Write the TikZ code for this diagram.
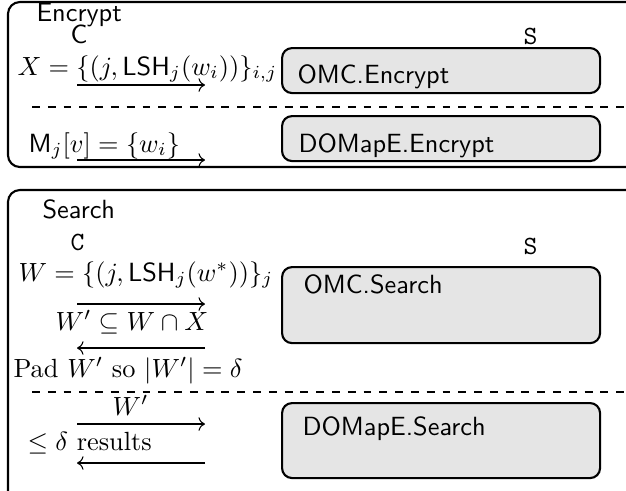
\documentclass[tikz,border=0pt]{standalone}
\usepackage{amsmath,amssymb}
\usetikzlibrary{arrows.meta}

\begin{document}
\begin{tikzpicture}
        [
        x=0.38pt, y=-0.38pt,
        every node/.style={inner sep=0pt, anchor=base west},
        frame/.style={draw, line width=0.8pt, rounded corners=4.5pt},
        alg/.style={draw, line width=0.8pt, fill=gray!20, rounded corners=3.8pt,
                    anchor=north west, minimum width=120.84pt},
        msg/.style={->, line width=0.4pt},
        sep/.style={dashed, line width=0.4pt},
        >=To
        ]
        \useasboundingbox (0,0) rectangle (626,490);
        \clip (0,0) rectangle (626,490);

        % Encrypt phase
        \draw[frame] (8,2) rectangle (660,167);
        \node (encL) at (36,21) {\sffamily Encrypt};
        \node (encC) at (70,43) {\sffamily C};
        \node (encS) at (523,44) {\texttt{S}};
        \node[alg, minimum height=17.1pt] (omcE) at (281,47) {};
        \node (omcEt) at (297,83) {\sffamily OMC.Encrypt};
        \node (encX) at (17,75) {$X = \{(j,\mathsf{LSH}_j(w_i))\}_{i,j}$};
        \coordinate (m1a) at (77,85);
        \coordinate (m1b) at (205,85);
        \coordinate (d1a) at (32,107);
        \coordinate (d1b) at (626,107);
        \node[alg, minimum height=17.1pt] (domE) at (281,115) {};
        \node (domEt) at (298,152) {\sffamily DOMapE.Encrypt};
        \node (encM) at (28,152) {$\mathsf{M}_j[v] = \{w_i\}$};
        \coordinate (m2a) at (77,160);
        \coordinate (m2b) at (205,160);

        \draw[msg] (m1a) -- (m1b);
        \draw[sep] (d1a) -- (d1b);
        \draw[msg] (m2a) -- (m2b);

        % Search phase
        \draw[frame] (8,190) rectangle (660,510);
        \node (seaL) at (42,218) {\sffamily Search};
        \node (seaC) at (70,250) {\texttt{C}};
        \node (seaS) at (523,254) {\texttt{S}};
        \node[alg, minimum height=28.9pt] (omcS) at (281,266) {};
        \node (omcSt) at (303,293) {\sffamily OMC.Search};
        \node (seaW) at (18,281) {$W = \{(j,\mathsf{LSH}_j(w^*))\}_j$};
        \coordinate (m3a) at (77,304);
        \coordinate (m3b) at (205,304);
        \node (seaWp) at (55,330) {$W' \subseteq W \cap X$};
        \coordinate (m4a) at (205,348);
        \coordinate (m4b) at (77,348);
        \node (seaPad) at (13,377) {Pad $W'$ so $|W'| = \delta$};
        \coordinate (d2a) at (32,392);
        \coordinate (d2b) at (626,392);
        \node[alg, minimum height=28.5pt] (domS) at (281,402) {};
        \node (domSt) at (302,435) {\sffamily DOMapE.Search};
        \node (seaW2) at (112,415) {$W'$};
        \coordinate (m5a) at (77,424);
        \coordinate (m5b) at (205,424);
        \node (seaRes) at (27,450) {$\leq \delta$ results};
        \coordinate (m6a) at (205,463);
        \coordinate (m6b) at (77,463);

        \draw[msg] (m3a) -- (m3b);
        \draw[msg] (m4a) -- (m4b);
        \draw[sep] (d2a) -- (d2b);
        \draw[msg] (m5a) -- (m5b);
        \draw[msg] (m6a) -- (m6b);
\end{tikzpicture}
\end{document}
